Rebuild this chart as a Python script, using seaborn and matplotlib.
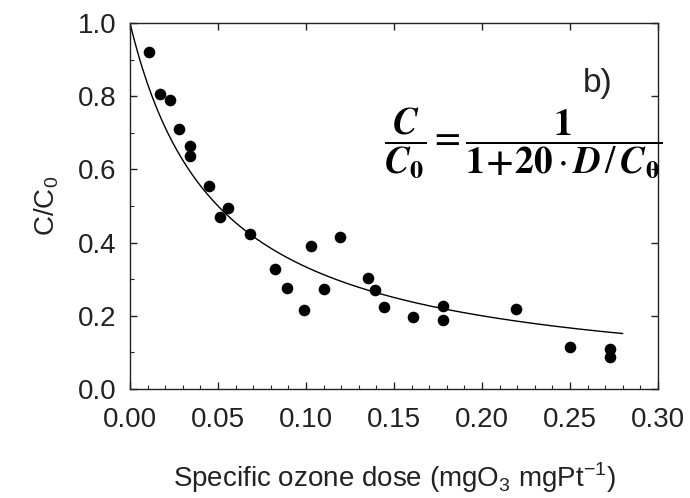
import numpy as np
import pandas as pd
import matplotlib
matplotlib.use("Agg")
import matplotlib.pyplot as plt
import seaborn as sns
from matplotlib.ticker import MultipleLocator

# specific ozone dose (mgO3/mgPt) and residual fraction C/C0
dose = [0.011, 0.017, 0.023, 0.028, 0.034, 0.034, 0.045, 0.051, 0.0555, 0.068,
        0.0825, 0.089, 0.099, 0.1027, 0.110, 0.1193, 0.135, 0.139, 0.1445, 0.161,
        0.178, 0.178, 0.2195, 0.250, 0.273, 0.273]
ratio = [0.920, 0.806, 0.790, 0.710, 0.665, 0.637, 0.555, 0.471, 0.494, 0.423,
         0.329, 0.277, 0.215, 0.392, 0.272, 0.414, 0.304, 0.271, 0.224, 0.198,
         0.226, 0.189, 0.219, 0.114, 0.109, 0.088]

# model curve from the equation on the chart: C/C0 = 1/(1 + k*D/C0)
k = 20
dose_max = 0.28

df = pd.DataFrame({"dose": dose, "ratio": ratio})
fit_x = np.linspace(0, dose_max, 200)
fit = pd.DataFrame({"dose": fit_x, "ratio": 1 / (1 + k * fit_x)})

sns.set_style("ticks")
plt.rcParams["font.family"] = ["Liberation Sans", "DejaVu Sans"]
plt.rcParams["mathtext.fontset"] = "custom"
plt.rcParams["mathtext.rm"] = "Liberation Sans"

fig = plt.figure(figsize=(6.9, 4.98), dpi=100)
ax = fig.add_axes([0.1884, 0.2189, 0.7652, 0.7349])

sns.lineplot(data=fit, x="dose", y="ratio", color="black", linewidth=1.0, ax=ax)
sns.scatterplot(data=df, x="dose", y="ratio", color="black", s=70,
                edgecolor="black", linewidth=0, ax=ax, zorder=3)

ax.set_xlim(0, 0.30)
ax.set_ylim(0, 1.0)
ax.xaxis.set_major_locator(MultipleLocator(0.05))
ax.xaxis.set_minor_locator(MultipleLocator(0.01))
ax.yaxis.set_major_locator(MultipleLocator(0.2))
ax.yaxis.set_minor_locator(MultipleLocator(0.1))
ax.xaxis.set_major_formatter(matplotlib.ticker.FormatStrFormatter("%.2f"))
ax.yaxis.set_major_formatter(matplotlib.ticker.FormatStrFormatter("%.1f"))

for s in ax.spines.values():
    s.set_visible(True)
    s.set_linewidth(1.0)
    s.set_color("#222222")

ax.tick_params(which="major", direction="in", length=5, width=1,
               top=True, right=True, labelsize=20, colors="#222222")
ax.tick_params(which="minor", direction="in", length=3, width=0.8,
               top=False, right=False)
ax.tick_params(axis="x", which="major", pad=13)
ax.tick_params(axis="y", which="major", pad=10)

ax.set_xlabel(r"Specific ozone dose (mgO$_\mathregular{3}$ mgPt$^\mathregular{-1}$)",
              fontsize=20, labelpad=20, color="#222222")
ax.set_ylabel(r"C/C$_\mathregular{0}$", fontsize=20, labelpad=12, color="#222222")

ax.text(0.886, 0.836, "b)", transform=ax.transAxes, fontsize=24,
        ha="center", va="center", color="#222222")
ax.text(1.008, 0.67,
        r"$\dfrac{\mathbfit{C}}{\mathbfit{C}_\mathbf{0}}=\dfrac{\mathbf{1}}{\mathbf{1\!+\!20}\cdot\mathbfit{D}\,/\,\mathbfit{C}_\mathbf{0}}$",
        transform=ax.transAxes, fontsize=27, ha="right", va="center",
        math_fontfamily="stix", color="black")

fig.savefig("out.png", dpi=100, facecolor="white")
